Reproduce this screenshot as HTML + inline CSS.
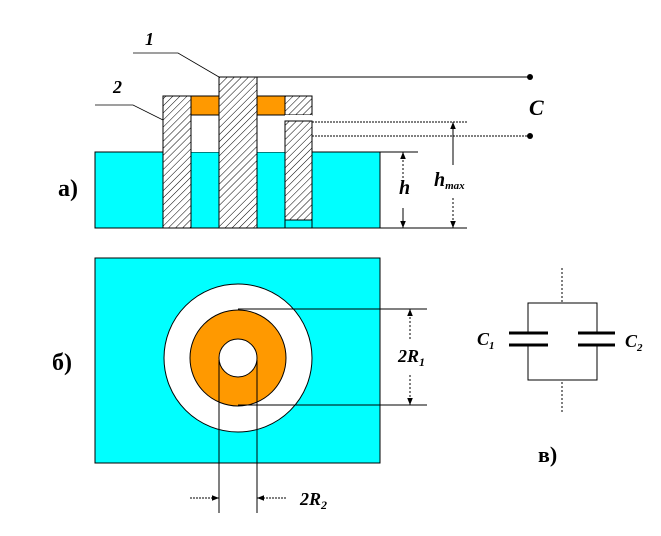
<!DOCTYPE html>
<html><head><meta charset="utf-8"><style>body{margin:0;background:#fff}svg{display:block}</style></head><body>
<svg width="661" height="536" viewBox="0 0 661 536" xmlns="http://www.w3.org/2000/svg" font-family="Liberation Serif, serif">
<defs>
<pattern id="h" width="5" height="5" patternUnits="userSpaceOnUse" patternTransform="rotate(45)"><rect width="5" height="5" fill="#fff"/><line x1="0" y1="0" x2="0" y2="5" stroke="#000" stroke-width="1"/></pattern>
<marker id="a" viewBox="0 0 10 10" refX="10" refY="5" markerWidth="7" markerHeight="7" orient="auto-start-reverse"><path d="M0,1 L10,5 L0,9z" fill="#000"/></marker>
</defs>
<!-- part a -->
<rect x="95" y="152" width="285" height="76" fill="#00ffff" stroke="#000" stroke-width="1"/>
<rect x="191" y="115" width="28" height="37" fill="#fff"/>
<rect x="257" y="115" width="28" height="37" fill="#fff"/>
<rect x="163" y="96" width="28" height="132" fill="url(#h)" stroke="#000"/>
<rect x="191" y="96" width="28" height="19" fill="#ff9900" stroke="#000"/>
<rect x="257" y="96" width="28" height="19" fill="#ff9900" stroke="#000"/>
<rect x="285" y="96" width="27" height="19" fill="url(#h)" stroke="#000"/>
<rect x="285" y="115" width="27" height="6" fill="#fff"/>
<rect x="285" y="121" width="27" height="99" fill="url(#h)" stroke="#000"/>
<rect x="285" y="220" width="27" height="8" fill="#00ffff" stroke="#000"/>
<rect x="219" y="77" width="38" height="151" fill="url(#h)" stroke="#000"/>
<line x1="257" y1="77" x2="530" y2="77" stroke="#000"/>
<circle cx="530" cy="77" r="3" fill="#000"/>
<line x1="312" y1="122" x2="467" y2="122" stroke="#000" stroke-dasharray="2,1"/>
<line x1="312" y1="136" x2="530" y2="136" stroke="#000" stroke-dasharray="2,1"/>
<circle cx="530" cy="136" r="3" fill="#000"/>
<line x1="380" y1="152" x2="418" y2="152" stroke="#000"/>
<line x1="380" y1="228" x2="467" y2="228" stroke="#000"/>
<line x1="95" y1="228" x2="380" y2="228" stroke="#000"/>
<line x1="403" y1="152" x2="403" y2="188" stroke="#000" stroke-dasharray="2,2" marker-start="url(#a)"/>
<line x1="403" y1="208" x2="403" y2="228" stroke="#000" marker-end="url(#a)"/>
<line x1="453" y1="122" x2="453" y2="165" stroke="#000" marker-start="url(#a)"/>
<line x1="453" y1="198" x2="453" y2="228" stroke="#000" stroke-dasharray="2,2" marker-end="url(#a)"/>
<text x="399" y="194" font-size="20" font-weight="bold" font-style="italic">h</text>
<text x="434" y="186" font-size="20" font-weight="bold" font-style="italic">h<tspan font-size="11" dy="3">max</tspan></text>
<text x="529" y="115" font-size="22" font-weight="bold" font-style="italic">C</text>
<polyline points="133,53 178,53 219,77" fill="none" stroke="#000" stroke-width="0.8"/>
<polyline points="95,105 133,105 163,120" fill="none" stroke="#000" stroke-width="0.8"/>
<text x="145" y="45" font-size="18" font-weight="bold" font-style="italic">1</text>
<text x="113" y="93" font-size="18" font-weight="bold" font-style="italic">2</text>
<text x="58" y="196" font-size="24" font-weight="bold">а)</text>
<!-- part b -->
<rect x="95" y="258" width="285" height="205" fill="#00ffff" stroke="#000" stroke-width="1"/>
<circle cx="238" cy="358" r="74" fill="#fff" stroke="#000"/>
<circle cx="238" cy="358" r="48" fill="#ff9900" stroke="#000"/>
<circle cx="238" cy="358" r="19" fill="#fff" stroke="#000"/>
<line x1="238" y1="309" x2="427" y2="309" stroke="#000" stroke-dasharray="0" />
<line x1="238" y1="405" x2="427" y2="405" stroke="#000"/>
<line x1="410" y1="309" x2="410" y2="340" stroke="#000" stroke-dasharray="2,2" marker-start="url(#a)"/>
<line x1="410" y1="375" x2="410" y2="405" stroke="#000" stroke-dasharray="2,2" marker-end="url(#a)"/>
<text x="398" y="362" font-size="18" font-weight="bold" font-style="italic">2R<tspan font-size="12" dy="4">1</tspan></text>
<line x1="219" y1="360" x2="219" y2="513" stroke="#000"/>
<line x1="257" y1="360" x2="257" y2="513" stroke="#000"/>
<line x1="190" y1="498" x2="219" y2="498" stroke="#000" stroke-dasharray="2,1" marker-end="url(#a)"/>
<line x1="286" y1="498" x2="257" y2="498" stroke="#000" stroke-dasharray="2,1" marker-end="url(#a)"/>
<text x="300" y="505" font-size="18" font-weight="bold" font-style="italic">2R<tspan font-size="12" dy="4">2</tspan></text>
<text x="52" y="370" font-size="24" font-weight="bold">б)</text>
<!-- part c -->
<line x1="562" y1="268" x2="562" y2="303" stroke="#000" stroke-dasharray="2,2"/>
<line x1="562" y1="382" x2="562" y2="412" stroke="#000" stroke-dasharray="2,2"/>
<polyline points="528,333 528,303 597,303 597,333" fill="none" stroke="#000"/>
<polyline points="528,345 528,380 597,380 597,345" fill="none" stroke="#000"/>
<line x1="509" y1="333" x2="548" y2="333" stroke="#000" stroke-width="3"/>
<line x1="509" y1="345" x2="548" y2="345" stroke="#000" stroke-width="3"/>
<line x1="578" y1="333" x2="615" y2="333" stroke="#000" stroke-width="3"/>
<line x1="578" y1="345" x2="615" y2="345" stroke="#000" stroke-width="3"/>
<text x="477" y="345" font-size="18" font-weight="bold" font-style="italic">C<tspan font-size="11" dy="4">1</tspan></text>
<text x="625" y="347" font-size="18" font-weight="bold" font-style="italic">C<tspan font-size="11" dy="4">2</tspan></text>
<text x="538" y="462" font-size="22" font-weight="bold">в)</text>
</svg>
</body></html>
